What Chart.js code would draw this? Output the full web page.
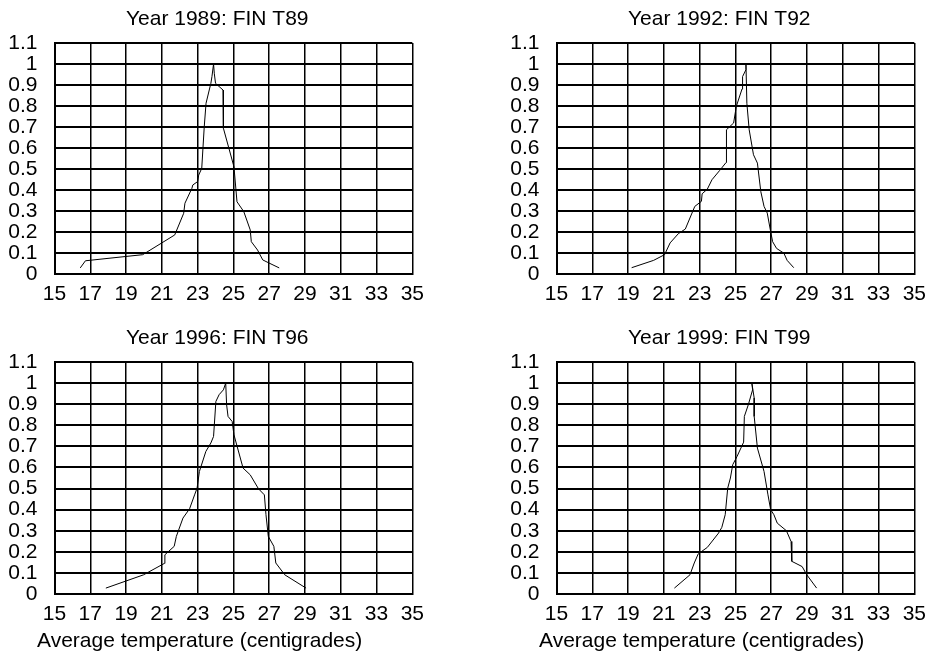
<!DOCTYPE html>
<html>
<head>
<meta charset="utf-8">
<script src="https://cdn.jsdelivr.net/npm/chart.js@4.4.1/dist/chart.umd.min.js"></script>
<style>
  html, body { margin: 0; padding: 0; background: #fff; }
  #wrap { position: relative; width: 934px; height: 658px; overflow: hidden; }
  .panel { position: absolute; }
</style>
</head>
<body>
<div id="wrap">
  <div class="panel" style="left:0;top:0;width:432px;height:319px"><canvas id="c89"></canvas></div>
  <div class="panel" style="left:502px;top:0;width:432px;height:319px"><canvas id="c92"></canvas></div>
  <div class="panel" style="left:0;top:319px;width:432px;height:339px"><canvas id="c96"></canvas></div>
  <div class="panel" style="left:502px;top:319px;width:432px;height:339px"><canvas id="c99"></canvas></div>
</div>
<script>
// axis ticks
const tempTicks = [15, 17, 19, 21, 23, 25, 27, 29, 31, 33, 35];
const shareTicks = [0, 0.1, 0.2, 0.3, 0.4, 0.5, 0.6, 0.7, 0.8, 0.9, 1, 1.1];

// 1989
const temp89 = [16.44, 16.73, 19.93, 21.72, 22.22, 22.29, 22.68, 22.73, 23.0, 23.06, 23.23, 23.37, 23.47, 23.74, 23.8, 23.89,
  23.93, 24.0, 24.42, 24.44, 25.03, 25.2, 25.58, 25.94, 26.0, 26.35, 26.64, 26.95, 27.56];
const share89 = [0.029, 0.063, 0.092, 0.186, 0.289, 0.337, 0.408, 0.424, 0.44, 0.471, 0.503, 0.701, 0.813, 0.908, 0.94, 1.0,
  0.956, 0.908, 0.876, 0.694, 0.511, 0.344, 0.297, 0.21, 0.154, 0.114, 0.067, 0.054, 0.029];

// 1992
const temp92 = [19.2, 20.43, 21.04, 21.35, 21.81, 22.2, 22.73, 23.1, 23.14, 23.43, 23.69, 24.12, 24.48, 24.5, 24.9, 25.05,
  25.37, 25.4, 25.59, 25.59, 25.64, 25.77, 26.01, 26.23, 26.42, 26.6, 26.78, 26.97, 27.08, 27.3, 27.71, 27.89, 28.26];
const share92 = [0.03, 0.065, 0.092, 0.148, 0.192, 0.214, 0.322, 0.346, 0.382, 0.404, 0.449, 0.493, 0.531, 0.687, 0.719, 0.798,
  0.881, 0.94, 0.973, 1.0, 0.813, 0.687, 0.568, 0.528, 0.392, 0.322, 0.29, 0.202, 0.154, 0.122, 0.099, 0.065, 0.03];

// 1996
const temp96 = [17.87, 19.98, 21.14, 21.17, 21.69, 21.81, 22.18, 22.55, 22.83, 22.97, 23.1, 23.46, 23.74, 23.89, 24.02, 24.2,
  24.44, 24.57, 24.62, 24.7, 24.93, 25.03, 25.54, 25.94, 26.4, 26.73, 26.82, 26.95, 27.26, 27.37, 27.87, 29.06];
const share96 = [0.028, 0.091, 0.145, 0.186, 0.226, 0.273, 0.36, 0.404, 0.47, 0.502, 0.581, 0.676, 0.716, 0.747, 0.913, 0.945,
  0.968, 1.0, 0.897, 0.842, 0.818, 0.755, 0.597, 0.565, 0.499, 0.47, 0.376, 0.273, 0.226, 0.147, 0.091, 0.028];

// 1999
const temp99 = [21.59, 22.46, 22.7, 22.92, 23.43, 24.06, 24.24, 24.43, 24.57, 24.72, 24.85, 25.09, 25.46, 25.5, 25.72, 25.96,
  25.92, 26.05, 26.05, 26.23, 26.6, 26.82, 26.97, 27.15, 27.34, 27.85, 28.11, 28.15, 28.73, 28.99, 29.54];
const share99 = [0.028, 0.091, 0.147, 0.19, 0.221, 0.289, 0.316, 0.376, 0.502, 0.55, 0.613, 0.652, 0.72, 0.842, 0.897, 0.968,
  1.0, 0.929, 0.842, 0.692, 0.581, 0.47, 0.4, 0.376, 0.336, 0.3, 0.249, 0.155, 0.13, 0.091, 0.028];

const FONT = 'Liberation Sans, Arial, Helvetica, sans-serif';

// title above the plot and the optional axis caption below it
const panelText = {
  id: 'panelText',
  afterDraw(chart, args, opts) {
    const ctx = chart.ctx;
    ctx.save();
    ctx.fillStyle = '#000';
    ctx.font = '21px ' + FONT;
    ctx.textAlign = 'left';
    ctx.textBaseline = 'alphabetic';
    ctx.fillText(opts.title, 126, 25);
    if (opts.caption) {
      ctx.fillText(opts.caption, 37, 328);
    }
    ctx.restore();
  }
};

function drawPanel(id, temps, shares, title, caption) {
  const points = temps.map((t, i) => ({ x: t, y: shares[i] }));
  new Chart(document.getElementById(id), {
    type: 'line',
    data: {
      datasets: [{
        data: points,
        borderColor: '#000',
        borderWidth: 1,
        pointRadius: 0,
        tension: 0,
        fill: false
      }]
    },
    options: {
      responsive: true,
      maintainAspectRatio: false,
      animation: false,
      layout: { padding: { left: 0, right: 14, top: 43, bottom: caption ? 19 : 0 } },
      plugins: {
        legend: { display: false },
        tooltip: { enabled: false },
        panelText: { title: title, caption: caption }
      },
      scales: {
        x: {
          type: 'linear',
          min: tempTicks[0],
          max: tempTicks[tempTicks.length - 1],
          afterBuildTicks: (scale) => { scale.ticks = tempTicks.map(v => ({ value: v })); },
          afterFit: (scale) => { scale.height = 45; },
          grid: { color: '#000', lineWidth: 1.5, drawTicks: false },
          border: { color: '#000', width: 2 },
          ticks: { color: '#000', font: { family: FONT, size: 21 }, padding: 8, maxRotation: 0, autoSkip: false }
        },
        y: {
          min: shareTicks[0],
          max: shareTicks[shareTicks.length - 1],
          afterBuildTicks: (scale) => { scale.ticks = shareTicks.map(v => ({ value: v })); },
          afterFit: (scale) => { scale.width = 54.5; },
          grid: { color: '#000', lineWidth: 2, drawTicks: false },
          border: { color: '#000', width: 2 },
          ticks: {
            color: '#000',
            font: { family: FONT, size: 21 },
            padding: 17,
            autoSkip: false,
            callback: (v) => String(Math.round(v * 10) / 10)
          }
        }
      }
    },
    plugins: [panelText]
  });
}

drawPanel('c89', temp89, share89, 'Year 1989: FIN T89', null);
drawPanel('c92', temp92, share92, 'Year 1992: FIN T92', null);
drawPanel('c96', temp96, share96, 'Year 1996: FIN T96', 'Average temperature (centigrades)');
drawPanel('c99', temp99, share99, 'Year 1999: FIN T99', 'Average temperature (centigrades)');
</script>
</body>
</html>
